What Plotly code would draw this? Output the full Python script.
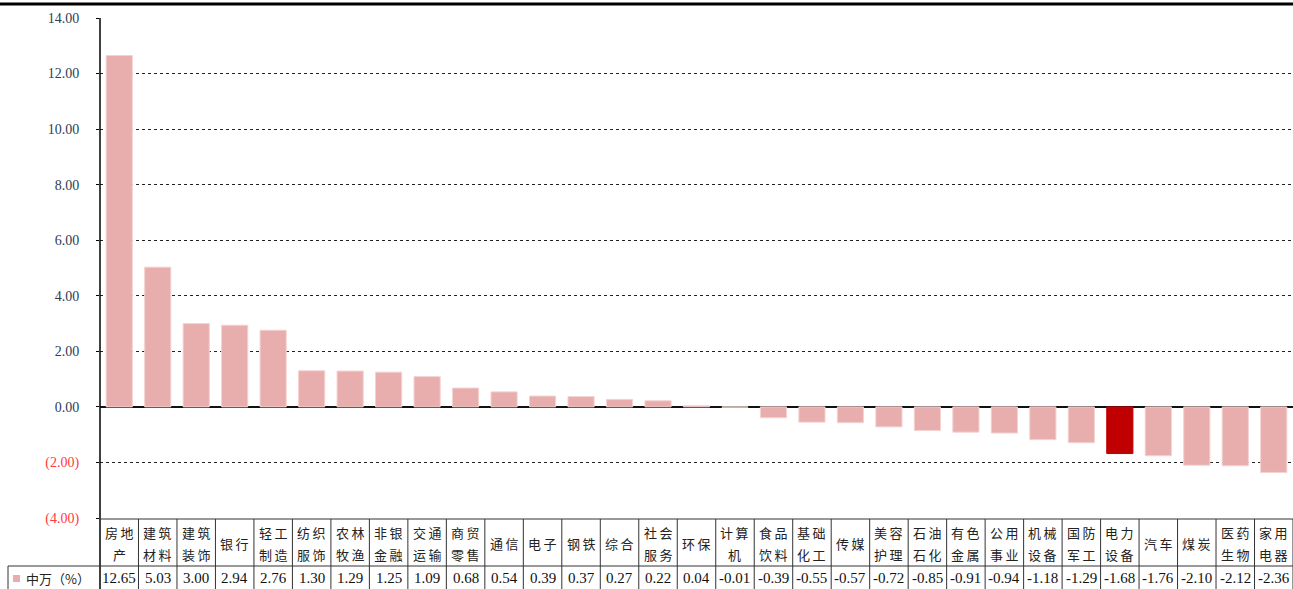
import plotly.graph_objects as go

categories = ["房地产", "建筑材料", "建筑装饰", "银行", "轻工制造", "纺织服饰", "农林牧渔", "非银金融",
              "交通运输", "商贸零售", "通信", "电子", "钢铁", "综合", "社会服务", "环保", "计算机",
              "食品饮料", "基础化工", "传媒", "美容护理", "石油石化", "有色金属", "公用事业",
              "机械设备", "国防军工", "电力设备", "汽车", "煤炭", "医药生物", "家用电器"]
values = [12.65, 5.03, 3.00, 2.94, 2.76, 1.30, 1.29, 1.25, 1.09, 0.68, 0.54, 0.39, 0.37, 0.27,
          0.22, 0.04, -0.01, -0.39, -0.55, -0.57, -0.72, -0.85, -0.91, -0.94, -1.18, -1.29,
          -1.68, -1.76, -2.10, -2.12, -2.36]
highlight = "电力设备"
series_name = "中万（%）"
tick_vals = [14, 12, 10, 8, 6, 4, 2, 0, -2, -4]

W, H = 1293, 589
PINK = "#E8AEAD"
RED = "#C00000"

def py(p):
    return (H - p) / H

n = len(categories)
xs = list(range(n))
colors = [RED if c == highlight else PINK for c in categories]
line_colors = [RED if c == highlight else "#F3D2D1" for c in categories]

fig = go.Figure()
fig.add_trace(go.Bar(x=xs, y=values, width=0.68,
                     marker=dict(color=colors, line=dict(color=line_colors, width=1)),
                     showlegend=False, hoverinfo="skip"))

def fmt(v):
    if v < 0:
        return '<span style="color:#FF3B3B">(%.2f)</span>' % abs(v)
    return "%.2f" % v

x0 = 100 / W
fig.update_layout(
    width=W, height=H, margin=dict(l=0, r=0, t=0, b=0, pad=0), autosize=False,
    plot_bgcolor="white", paper_bgcolor="white",
    xaxis=dict(domain=[x0, 1], range=[-0.5, n - 0.5], showticklabels=False, automargin=False,
               showgrid=False, zeroline=False, showline=False, fixedrange=True),
    yaxis=dict(domain=[py(518), py(18)], range=[-4, 14], tickvals=tick_vals, automargin=False,
               ticktext=[fmt(v) for v in tick_vals], showgrid=True, gridcolor="#222222",
               griddash="3px,3px", gridwidth=1, zeroline=True, zerolinecolor="#111111",
               zerolinewidth=1.5, showline=False, ticks="outside", ticklen=3,
               tickcolor="black", tickwidth=1, ticklabelstandoff=14,
               tickfont=dict(family="Liberation Serif", size=14, color="#2E3D55")),
    bargap=0.32,
)

shapes = []
LC = "#333333"
shapes.append(dict(type="line", xref="paper", yref="paper", x0=0, x1=1, y0=py(4), y1=py(4),
                   line=dict(color="black", width=3)))
shapes.append(dict(type="line", xref="paper", yref="paper", x0=x0, x1=x0, y0=py(18), y1=0,
                   line=dict(color="black", width=1.5)))
shapes.append(dict(type="line", xref="paper", yref="paper", x0=x0, x1=1, y0=py(519), y1=py(519),
                   line=dict(color=LC, width=1)))
shapes.append(dict(type="line", xref="paper", yref="paper", x0=8 / W, x1=1, y0=py(566), y1=py(566),
                   line=dict(color=LC, width=1)))
shapes.append(dict(type="line", xref="paper", yref="paper", x0=8 / W, x1=8 / W, y0=py(566), y1=0,
                   line=dict(color=LC, width=1)))
for i in range(1, n + 1):
    shapes.append(dict(type="line", xref="x", yref="paper", x0=i - 0.5, x1=i - 0.5,
                       y0=py(519), y1=0, line=dict(color=LC, width=1)))
shapes.append(dict(type="rect", xref="paper", yref="paper", x0=13 / W, x1=20 / W,
                   y0=py(582), y1=py(575), fillcolor=PINK, line=dict(width=0)))
fig.update_layout(shapes=shapes)

SP = "\u2009"
ann = []
for i, (c, v) in enumerate(zip(categories, values)):
    if len(c) <= 2:
        lines = [(c, 543)]
    else:
        lines = [(c[:2], 532), (c[2:], 554)]
    for t, yy in lines:
        ann.append(dict(x=i, y=py(yy), xref="x", yref="paper", text=SP.join(t), showarrow=False,
                        font=dict(family="Noto Sans CJK SC", size=13, color="#222222"),
                        xanchor="center", yanchor="middle"))
    ann.append(dict(x=i, y=py(578), xref="x", yref="paper", text="%.2f" % v, showarrow=False,
                    font=dict(family="Liberation Serif", size=15, color="#111111"),
                    xanchor="center", yanchor="middle"))
ann.append(dict(x=24 / W, y=py(578), xref="paper", yref="paper", text=series_name, showarrow=False,
                font=dict(family="Noto Sans CJK SC", size=13, color="#222222"),
                xanchor="left", yanchor="middle"))
fig.update_layout(annotations=ann)

fig.write_html("out.html")
